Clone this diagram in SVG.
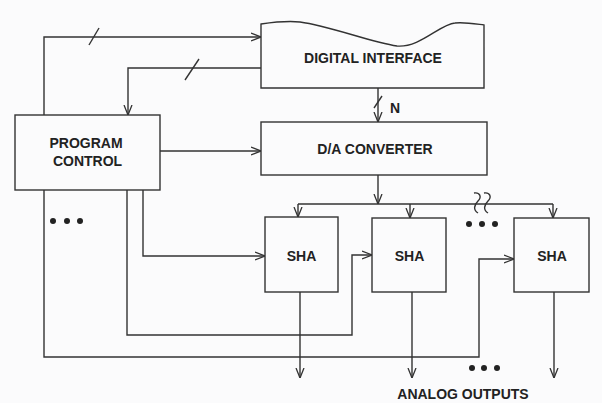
<svg xmlns="http://www.w3.org/2000/svg" width="602" height="403" viewBox="0 0 602 403">
<style>
.ln{fill:none;stroke:#333;stroke-width:1.4}
.bx{fill:#fbfbfc;stroke:#333;stroke-width:1.4}
.t{font-family:"Liberation Sans",Arial,sans-serif;font-weight:bold;font-size:14px;fill:#222;text-anchor:middle}
.dot{fill:#222}
</style>
<defs>
<marker id="arr" viewBox="0 0 10 10" refX="10" refY="5" markerWidth="10" markerHeight="10" markerUnits="userSpaceOnUse" orient="auto">
<path d="M0,1 L10,5 L0,9" fill="none" stroke="#333" stroke-width="1.3"/>
</marker>
</defs>
<rect width="602" height="403" fill="#fbfbfc"/>
<g id="connectors">
<path class="ln" d="M44 115 V37 H261" marker-end="url(#arr)"/>
<line class="ln" x1="89" y1="45" x2="99" y2="28"/>
<path class="ln" d="M261 68 H128 V115" marker-end="url(#arr)"/>
<line class="ln" x1="185" y1="80" x2="199" y2="59"/>
<path class="ln" d="M378 88 V122" marker-end="url(#arr)"/>
<line class="ln" x1="374" y1="108" x2="382" y2="96"/>
<path class="ln" d="M160 151 H261" marker-end="url(#arr)"/>
<path class="ln" d="M378 175 V204" marker-end="url(#arr)"/>
<path class="ln" d="M298 204 H553"/>
<path class="ln" d="M298 204 V217" marker-end="url(#arr)"/>
<path class="ln" d="M410 204 V218" marker-end="url(#arr)"/>
<path class="ln" d="M553 204 V218" marker-end="url(#arr)"/>
<path class="ln" d="M474 193 C480 192 482 197 478 201 C474 205 473 210 478 213"/>
<path class="ln" d="M484 193 C490 192 492 197 488 201 C484 205 483 210 488 213"/>
<path class="ln" d="M143 190 V256 H265" marker-end="url(#arr)"/>
<path class="ln" d="M127 190 V335 H352 V255 H372" marker-end="url(#arr)"/>
<path class="ln" d="M44 190 V357 H479 V259 H514" marker-end="url(#arr)"/>
<path class="ln" d="M300 292 V378" marker-end="url(#arr)"/>
<path class="ln" d="M412 292 V378" marker-end="url(#arr)"/>
<path class="ln" d="M554 292 V378" marker-end="url(#arr)"/>
</g>
<g id="program-control">
<rect class="bx" x="15" y="115" width="145" height="75"/>
<text class="t" x="86" y="148">PROGRAM</text>
<text class="t" x="87.5" y="166">CONTROL</text>
</g>
<g id="digital-interface">
<path class="bx" d="M261 24 C275 22 290 21 300 22 C330 26 370 42 397 46 C420 48 440 24 455 23 C465 22 476 24 484 25 V88 H261 Z"/>
<text class="t" x="373" y="63">DIGITAL INTERFACE</text>
</g>
<g id="n-label">
<text class="t" x="395" y="113">N</text>
</g>
<g id="da-converter">
<rect class="bx" x="261" y="122" width="226" height="53"/>
<text class="t" x="375" y="154">D/A CONVERTER</text>
</g>
<g id="sha1">
<rect class="bx" x="265" y="217" width="73" height="75"/>
<text class="t" x="301.5" y="261">SHA</text>
</g>
<g id="sha2">
<rect class="bx" x="372" y="218" width="74" height="74"/>
<text class="t" x="409.5" y="261">SHA</text>
</g>
<g id="sha3">
<rect class="bx" x="514" y="218" width="75" height="74"/>
<text class="t" x="552" y="261">SHA</text>
</g>
<g id="dots-left">
<circle class="dot" cx="53" cy="221" r="3"/>
<circle class="dot" cx="67" cy="221" r="3"/>
<circle class="dot" cx="80" cy="221" r="3"/>
</g>
<g id="dots-mid">
<circle class="dot" cx="469" cy="224" r="3"/>
<circle class="dot" cx="482" cy="224" r="3"/>
<circle class="dot" cx="495" cy="224" r="3"/>
</g>
<g id="dots-bottom">
<circle class="dot" cx="472" cy="368" r="3"/>
<circle class="dot" cx="484" cy="368" r="3"/>
<circle class="dot" cx="497" cy="368" r="3"/>
</g>
<g id="analog-outputs">
<text class="t" x="463" y="399">ANALOG OUTPUTS</text>
</g>
</svg>
